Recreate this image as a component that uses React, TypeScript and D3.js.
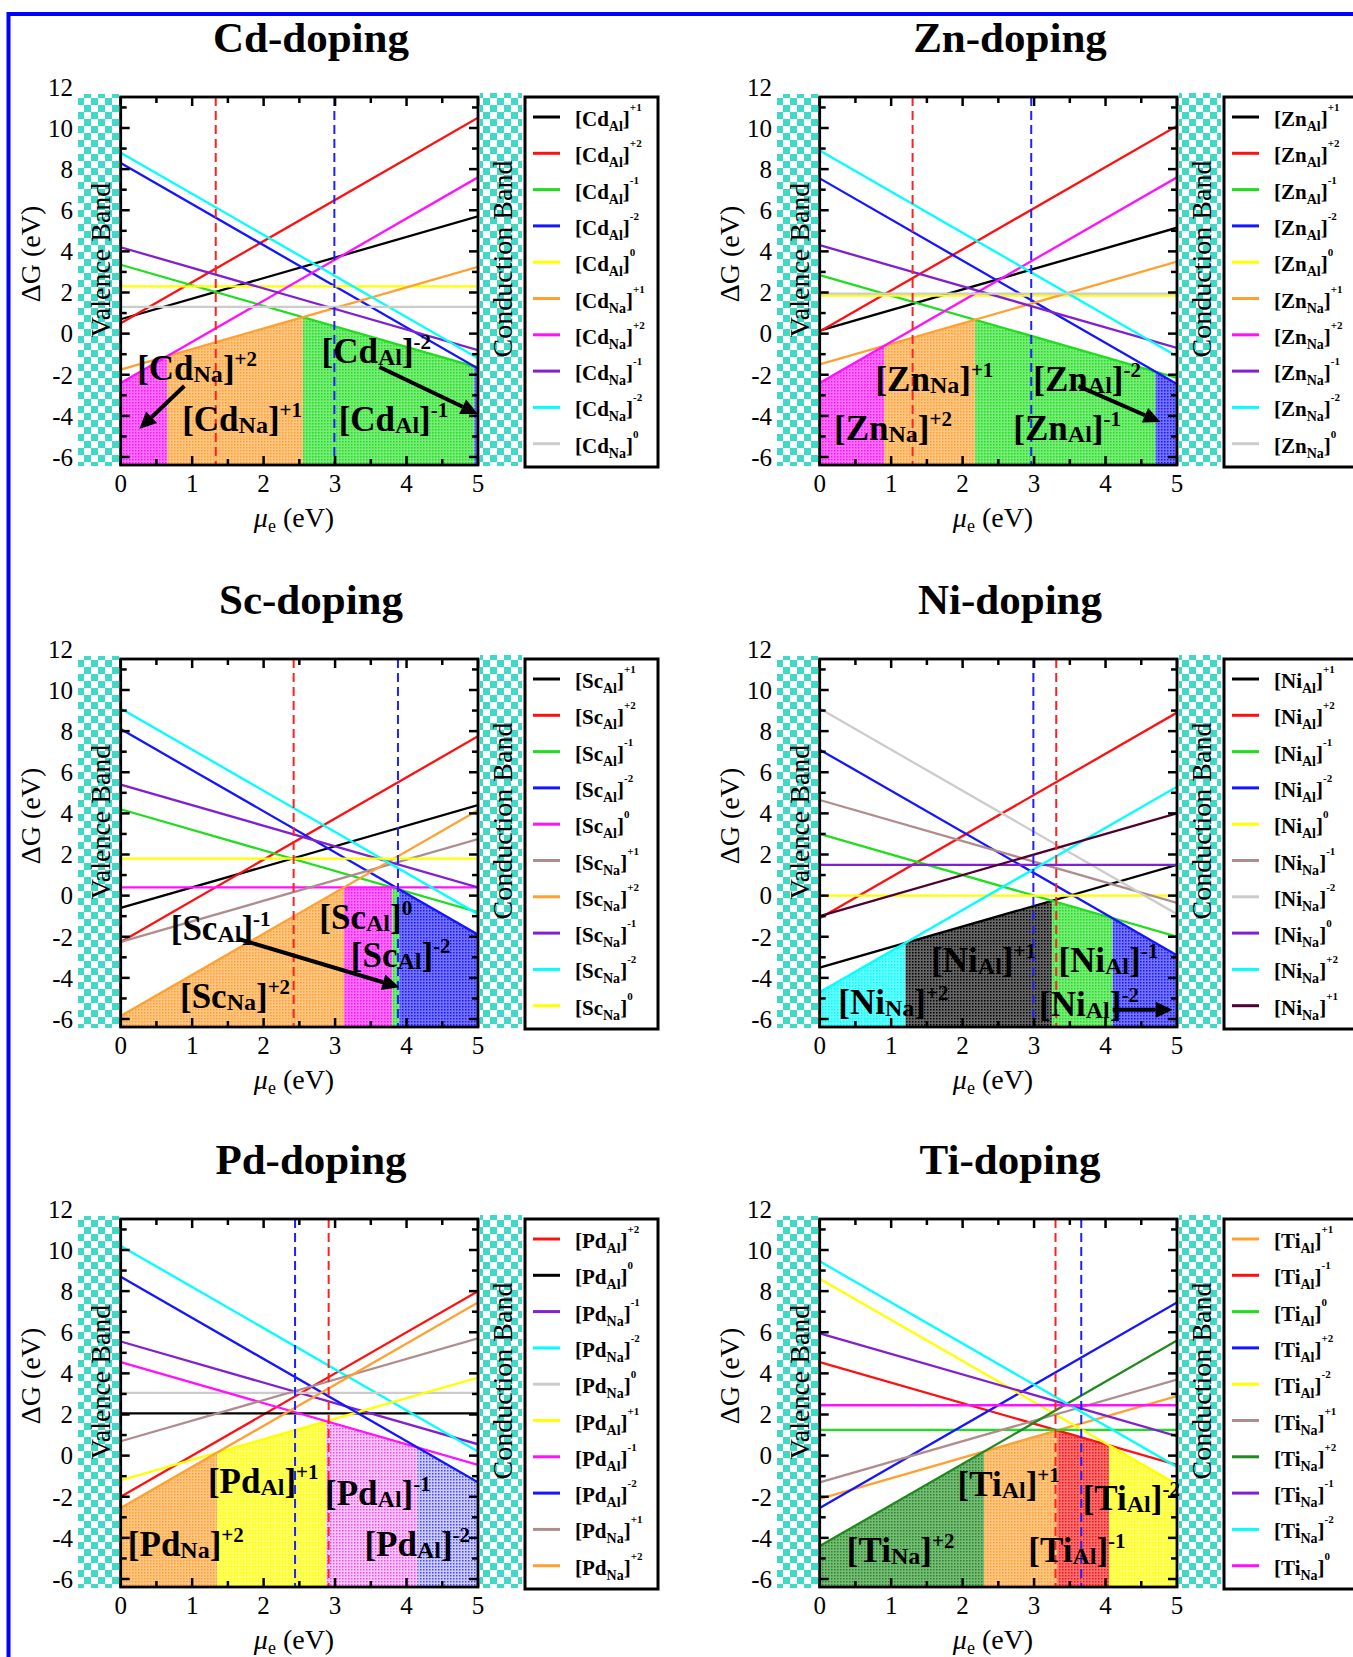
import React, { useEffect } from 'react'
import * as d3 from 'd3'

const FONT = "'Liberation Serif', 'Times New Roman', serif"

const BLACK = '#000000'
const RED = '#ff1010'
const GREEN = '#20dd20'
const BLUE = '#1515ff'
const YELLOW = '#ffff00'
const ORANGE = '#ffa030'
const MAGENTA = '#ff10ff'
const PURPLE = '#8020d0'
const CYAN = '#00ffff'
const LGRAY = '#cccccc'
const ROSY = '#b08c8c'
const MAROON = '#500030'
const DKGREEN = '#1f8a1f'
const TEAL = '#3fd9c6'

// ---- Cd-doping
const cdSites = ['Al', 'Al', 'Al', 'Al', 'Al', 'Na', 'Na', 'Na', 'Na', 'Na']
const cdCharges = ['+1', '+2', '-1', '-2', '0', '+1', '+2', '-1', '-2', '0']
const cdColors = [BLACK, RED, GREEN, BLUE, YELLOW, ORANGE, MAGENTA, PURPLE, CYAN, LGRAY]
const cdAt0 = [0.7, 0.5, 3.35, 8.3, 2.3, -1.75, -2.4, 4.2, 8.8, 1.3] // ΔG at μe = 0
const cdAt5 = [5.7, 10.5, -1.65, -1.7, 2.3, 3.25, 7.6, -0.8, -1.2, 1.3] // ΔG at μe = 5
const cdStable = [6, 5, 2, 3]
const cdFermi = [1.33, 2.99] // red, blue dashed
const cdNotes = [
  ['Na', '+2', 0.23, -2.26], ['Na', '+1', 0.86, -4.74],
  ['Al', '-2', 2.81, -1.43], ['Al', '-1', 3.05, -4.74],
]
const cdArrows = [[0.89, -2.55, 0.26, -4.64], [3.62, -1.62, 5.0, -3.91]]

// ---- Zn-doping
const znSites = cdSites
const znCharges = cdCharges
const znColors = cdColors
const znAt0 = [0.15, 0.1, 2.85, 7.55, 1.85, -1.5, -2.4, 4.3, 8.9, 1.95]
const znAt5 = [5.15, 10.1, -2.15, -2.45, 1.85, 3.5, 7.6, -0.7, -1.1, 1.95]
const znStable = [6, 5, 2, 3]
const znFermi = [1.3, 2.96]
const znNotes = [
  ['Na', '+1', 0.78, -2.79], ['Al', '-2', 2.99, -2.79],
  ['Na', '+2', 0.2, -5.17], ['Al', '-1', 2.71, -5.17],
]
const znArrows = [[3.62, -2.55, 4.77, -4.3]]

// ---- Sc-doping
const scSites = ['Al', 'Al', 'Al', 'Al', 'Al', 'Na', 'Na', 'Na', 'Na', 'Na']
const scCharges = ['+1', '+2', '-1', '-2', '0', '+1', '+2', '-1', '-2', '0']
const scColors = [BLACK, RED, GREEN, BLUE, MAGENTA, ROSY, ORANGE, PURPLE, CYAN, YELLOW]
const scAt0 = [-0.6, -2.25, 4.2, 8.1, 0.4, -2.25, -5.85, 5.4, 9.1, 1.8]
const scAt5 = [4.4, 7.75, -0.8, -1.9, 0.4, 2.75, 4.15, 0.4, -0.9, 1.8]
const scStable = [6, 4, 2, 3]
const scFermi = [2.42, 3.88]
const scNotes = [
  ['Al', '-1', 0.7, -2.18], ['Al', '0', 2.78, -1.6],
  ['Al', '-2', 3.22, -3.45], ['Na', '+2', 0.83, -5.45],
]
const scArrows = [[1.65, -2.11, 3.9, -4.45]]

// ---- Ni-doping
const niSites = ['Al', 'Al', 'Al', 'Al', 'Al', 'Na', 'Na', 'Na', 'Na', 'Na']
const niCharges = ['+1', '+2', '-1', '-2', '0', '-1', '-2', '0', '+2', '+1']
const niColors = [BLACK, RED, GREEN, BLUE, YELLOW, ROSY, LGRAY, PURPLE, CYAN, MAROON]
const niAt0 = [-3.5, -1.1, 3.0, 7.1, 0.0, 4.65, 9.1, 1.5, -4.7, -1.0]
const niAt5 = [1.5, 8.9, -2.0, -2.9, 0.0, -0.35, -0.9, 1.5, 5.3, 4.0]
const niStable = [8, 0, 2, 3]
const niFermi = [3.31, 2.99]
const niNotes = [
  ['Na', '+2', 0.26, -5.78], ['Al', '+1', 1.56, -3.69],
  ['Al', '-1', 3.34, -3.69], ['Al', '-2', 3.07, -5.86],
]
const niArrows = [[4.1, -5.55, 4.94, -5.55]]

// ---- Pd-doping
const pdSites = ['Al', 'Al', 'Na', 'Na', 'Na', 'Al', 'Al', 'Al', 'Na', 'Na']
const pdCharges = ['+2', '0', '-1', '-2', '0', '+1', '-1', '-2', '+1', '+2']
const pdColors = [RED, BLACK, PURPLE, CYAN, LGRAY, YELLOW, MAGENTA, BLUE, ROSY, ORANGE]
const pdAt0 = [-2.0, 2.05, 5.55, 10.2, 3.05, -1.2, 4.55, 8.7, 0.7, -2.55]
const pdAt5 = [8.0, 2.05, 0.55, 0.2, 3.05, 3.8, -0.45, -1.3, 5.7, 7.45]
const pdStable = [9, 5, 6, 7]
const pdFermi = [2.91, 2.44]
const pdNotes = [
  ['Al', '+1', 1.22, -1.82], ['Al', '-1', 2.86, -2.4],
  ['Na', '+2', 0.1, -4.88], ['Al', '-2', 3.41, -4.88],
]
const pdArrows = []

// ---- Ti-doping
const tiSites = ['Al', 'Al', 'Al', 'Al', 'Al', 'Na', 'Na', 'Na', 'Na', 'Na']
const tiCharges = ['+1', '-1', '0', '+2', '-2', '+1', '+2', '-1', '-2', '0']
const tiColors = [ORANGE, RED, GREEN, BLUE, YELLOW, ROSY, DKGREEN, PURPLE, CYAN, MAGENTA]
const tiAt0 = [-2.1, 4.55, 1.25, -2.55, 8.6, -1.3, -4.4, 5.95, 9.45, 2.45]
const tiAt5 = [2.9, -0.45, 1.25, 7.45, -1.4, 3.7, 5.6, 0.95, -0.55, 2.45]
const tiStable = [6, 0, 1, 4]
const tiFermi = [3.3, 3.66]
const tiNotes = [
  ['Al', '+1', 1.93, -1.96], ['Al', '-2', 3.68, -2.65],
  ['Na', '+2', 0.38, -5.15], ['Al', '-1', 2.92, -5.15],
]
const tiArrows = []

const panels = [
  { el: 'Cd', sites: cdSites, charges: cdCharges, colors: cdColors, at0: cdAt0, at5: cdAt5, stable: cdStable, fermi: cdFermi, notes: cdNotes, arrows: cdArrows, light: [] },
  { el: 'Zn', sites: znSites, charges: znCharges, colors: znColors, at0: znAt0, at5: znAt5, stable: znStable, fermi: znFermi, notes: znNotes, arrows: znArrows, light: [] },
  { el: 'Sc', sites: scSites, charges: scCharges, colors: scColors, at0: scAt0, at5: scAt5, stable: scStable, fermi: scFermi, notes: scNotes, arrows: scArrows, light: [] },
  { el: 'Ni', sites: niSites, charges: niCharges, colors: niColors, at0: niAt0, at5: niAt5, stable: niStable, fermi: niFermi, notes: niNotes, arrows: niArrows, light: [] },
  { el: 'Pd', sites: pdSites, charges: pdCharges, colors: pdColors, at0: pdAt0, at5: pdAt5, stable: pdStable, fermi: pdFermi, notes: pdNotes, arrows: pdArrows, light: [2, 3] },
  { el: 'Ti', sites: tiSites, charges: tiCharges, colors: tiColors, at0: tiAt0, at5: tiAt5, stable: tiStable, fermi: tiFermi, notes: tiNotes, arrows: tiArrows, light: [] },
]

const ROWS = [0, 562, 1122]
const COLS = [0, 699]

// plot box (panel-local pixels)
const L = 120.7, R = 478, T = 97, B = 465

function Species({ el, site, q, x, y, size, sub, sup, subDy, supDy }: any) {
  return (
    <text x={x} y={y} fontSize={size} fontWeight="bold" fontFamily={FONT}>
      [{el}
      <tspan dy={subDy} fontSize={sub}>{site}</tspan>
      <tspan dy={-subDy}>]</tspan>
      <tspan dy={supDy} fontSize={sup}>{q}</tspan>
    </text>
  )
}

function Panel({ p, ox, oy, idx }: any) {
  const x = d3.scaleLinear().domain([0, 5]).range([L, R])
  const y = d3.scaleLinear().domain([10, -6]).range([128, 457])
  const val = (i, m) => p.at0[i] + (p.at5[i] - p.at0[i]) * m / 5
  const slope = i => (p.at5[i] - p.at0[i]) / 5
  const cross = (i, j) => (p.at0[j] - p.at0[i]) / (slope(i) - slope(j))
  const line = d3.line<number[]>().x(d => x(d[0])).y(d => y(d[1]))
  const n = p.stable.length
  const clipId = 'clip' + idx

  const xTicks = d3.range(0, 5.001, 0.5)
  const yTicks = d3.range(-6, 11.6, 1)

  return (
    <g transform={`translate(${ox},${oy})`}>
      <defs>
        <clipPath id={clipId}><rect x={L} y={T} width={R - L} height={B - T} /></clipPath>
        {p.stable.map((i, k) => {
          const lt = p.light.includes(k)
          return (
            <pattern key={k} id={`fill${idx}-${k}`} width={3} height={3} patternUnits="userSpaceOnUse">
              <rect width={3} height={3} fill="#fff" />
              <rect width={3} height={3} fill={p.colors[i]} opacity={lt ? 0.22 : 0.6} />
              <rect width={1.5} height={1.5} fill={p.colors[i]} opacity={lt ? 0.75 : 1} />
            </pattern>
          )
        })}
      </defs>

      <text x={311} y={52} textAnchor="middle" fontSize={43} fontWeight="bold" fontFamily={FONT}>{p.el}-doping</text>

      {/* band strips */}
      <rect x={78} y={94} width={42} height={372} fill="url(#checker)" />
      <rect x={480} y={93} width={42} height={373} fill="url(#checker)" />
      <text transform="translate(110,260) rotate(-90)" textAnchor="middle" fontSize={28} fontFamily={FONT}>Valence Band</text>
      <text transform="translate(512,259) rotate(-90)" textAnchor="middle" fontSize={28} fontFamily={FONT}>Conduction Band</text>

      {/* stable regions */}
      <g clipPath={`url(#${clipId})`}>
        {p.stable.map((i, k) => {
          const xa = k === 0 ? 0 : cross(p.stable[k - 1], i)
          const xb = k === n - 1 ? 5 : cross(i, p.stable[k + 1])
          const area = d3.area<number>().x(m => x(m)).y0(B).y1(m => y(val(i, m)))
          return <path key={k} d={area([xa, xb]) || ''} fill={`url(#fill${idx}-${k})`} />
        })}
        {p.at0.map((a, i) => (
          <path key={i} d={line([[0, a], [5, p.at5[i]]]) || ''} stroke={p.colors[i]} strokeWidth={2.3} fill="none" />
        ))}
        {p.fermi.map((f, k) => (
          <line key={k} x1={x(f)} x2={x(f)} y1={T} y2={B} stroke={k === 0 ? '#ff2020' : '#2020ff'} strokeWidth={2} strokeDasharray="9,5" />
        ))}
      </g>

      {/* ticks */}
      {xTicks.map(t => {
        const len = Number.isInteger(t) ? 9 : 6
        return (
          <g key={'x' + t}>
            <line x1={x(t)} x2={x(t)} y1={B} y2={B - len} stroke="#000" strokeWidth={2.5} />
            <line x1={x(t)} x2={x(t)} y1={T} y2={T + len} stroke="#000" strokeWidth={2.5} />
          </g>
        )
      })}
      {yTicks.map(t => {
        const len = t % 2 === 0 ? 9 : 6
        return (
          <g key={'y' + t}>
            <line x1={L} x2={L + len} y1={y(t)} y2={y(t)} stroke="#000" strokeWidth={2.5} />
            <line x1={R} x2={R - len} y1={y(t)} y2={y(t)} stroke="#000" strokeWidth={2.5} />
          </g>
        )
      })}
      <rect x={L} y={T} width={R - L} height={B - T} fill="none" stroke="#000" strokeWidth={2.8} />

      {/* tick labels */}
      {d3.range(-6, 12.1, 2).map(t => (
        <text key={'yl' + t} x={73} y={y(t)} dy="0.35em" textAnchor="end" fontSize={25} fontFamily={FONT}>{t}</text>
      ))}
      {d3.range(0, 5.1, 1).map(t => (
        <text key={'xl' + t} x={x(t)} y={492} textAnchor="middle" fontSize={25} fontFamily={FONT}>{t}</text>
      ))}
      <text transform="translate(40,254) rotate(-90)" textAnchor="middle" fontSize={28} fontFamily={FONT}>ΔG (eV)</text>
      <text x={294} y={527} textAnchor="middle" fontSize={28} fontFamily={FONT}>
        <tspan fontStyle="italic">μ</tspan>
        <tspan dy={5} fontSize={18}>e</tspan>
        <tspan dy={-5}> (eV)</tspan>
      </text>

      {/* annotations */}
      {p.notes.map((d, k) => (
        <Species key={'n' + k} el={p.el} site={d[0]} q={d[1]} x={x(d[2])} y={y(d[3])}
          size={35} sub={24} sup={21} subDy={2} supDy={-14} />
      ))}
      {p.arrows.map((a, k) => {
        const x1 = x(a[0]), y1 = y(a[1]), x2 = x(a[2]), y2 = y(a[3])
        const ang = Math.atan2(y2 - y1, x2 - x1)
        const hl = 17, hw = 8
        const bx = x2 - hl * Math.cos(ang), by = y2 - hl * Math.sin(ang)
        const px = -Math.sin(ang) * hw, py = Math.cos(ang) * hw
        return (
          <g key={'a' + k}>
            <line x1={x1} y1={y1} x2={bx} y2={by} stroke="#000" strokeWidth={4} />
            <path d={`M${x2},${y2}L${bx + px},${by + py}L${bx - px},${by - py}Z`} fill="#000" />
          </g>
        )
      })}

      {/* legend */}
      <rect x={525} y={97} width={133} height={370} fill="#fff" stroke="#000" strokeWidth={3} />
      {p.sites.map((s, i) => {
        const ly = 117 + i * 36.3
        return (
          <g key={'lg' + i}>
            <line x1={533} x2={560} y1={ly} y2={ly} stroke={p.colors[i]} strokeWidth={3} />
            <Species el={p.el} site={s} q={p.charges[i]} x={575} y={ly + 9}
              size={21} sub={14} sup={11} subDy={5} supDy={-15} />
          </g>
        )
      })}
    </g>
  )
}

export default function App() {
  useEffect(() => {
    document.body.style.margin = '0'
  }, [])
  return (
    <svg width={1353} height={1657} style={{ display: 'block', background: '#fff' }}>
      <defs>
        <pattern id="checker" width={14} height={14} patternUnits="userSpaceOnUse">
          <rect width={14} height={14} fill={TEAL} />
          <rect width={7} height={7} fill="#fff" />
          <rect x={7} y={7} width={7} height={7} fill="#fff" />
        </pattern>
      </defs>
      <rect x={0} y={0} width={1353} height={1657} fill="#fff" />
      {panels.map((p, i) => (
        <Panel key={p.el} p={p} idx={i} ox={COLS[i % 2]} oy={ROWS[Math.floor(i / 2)]} />
      ))}
      <rect x={8.5} y={14} width={1400} height={1700} fill="none" stroke="#0000ff" strokeWidth={4} />
    </svg>
  )
}
